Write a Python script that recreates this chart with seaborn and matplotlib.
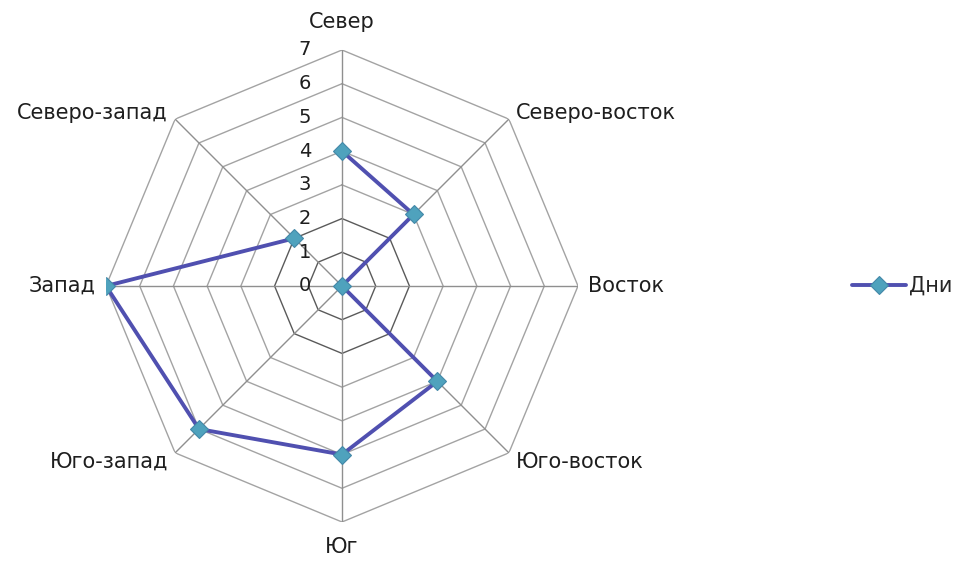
import numpy as np
import seaborn as sns
import matplotlib.pyplot as plt

# data
directions = ['Север', 'Северо-восток', 'Восток', 'Юго-восток',
              'Юг', 'Юго-запад', 'Запад', 'Северо-запад']
days = [4, 3, 0, 4, 5, 6, 7, 2]
levels = [0, 1, 2, 3, 4, 5, 6, 7]
series_name = 'Дни'

sns.set_style('white')
plt.rcParams['font.family'] = ['DejaVu Sans']

fig = plt.figure(figsize=(9.6, 5.68), dpi=100)
ax = fig.add_axes([0.1104, 0.081, 0.4917, 0.831], projection='polar')
ax.set_theta_zero_location('N')
ax.set_theta_direction(-1)
ax.set_ylim(0, max(levels))
ax.grid(False)
ax.spines['polar'].set_visible(False)
ax.set_xticks([])
ax.set_yticks([])
ax.patch.set_alpha(0)

n = len(directions)
theta = np.linspace(0, 2 * np.pi, n, endpoint=False)
theta_c = np.append(theta, theta[0])

# octagon rings
for lv in levels[1:]:
    col = '#5a5a5a' if lv <= 2 else '#a3a3a3'
    ax.plot(theta_c, [lv] * (n + 1), color=col, lw=1, zorder=1)
# spokes
for t in theta:
    ax.plot([t, t], [0, levels[-1]], color='#8f8f8f', lw=1, zorder=1)

# series
vals_c = days + [days[0]]
sns.lineplot(x=theta_c, y=vals_c, sort=False, ax=ax, color='#5050b0', lw=2.8,
             marker='D', markersize=9, markerfacecolor='#4fa2bd',
             markeredgecolor='#4388a8', markeredgewidth=0.8, zorder=3,
             label=series_name, legend=False)

# radial value labels
for lv in levels:
    ax.annotate(str(lv), xy=(0, lv), xytext=(-37, 0), textcoords='offset pixels',
                ha='center', va='center', fontsize=14, color='#1e1e1e')

# category labels
offsets = [(0, 28, 'center', 'center'), (7, 6, 'left', 'center'),
           (10, 0, 'left', 'center'), (7, -9, 'left', 'center'),
           (0, -25, 'center', 'center'), (-7, -9, 'right', 'center'),
           (-10, 0, 'right', 'center'), (-7, 6, 'right', 'center')]
for t, name, (dx, dy, ha, va) in zip(theta, directions, offsets):
    ax.annotate(name, xy=(t, levels[-1]), xytext=(dx, dy), textcoords='offset pixels',
                ha=ha, va=va, fontsize=15, color='#1e1e1e')

# legend
h, l = ax.get_legend_handles_labels()
fig.legend(h, l, loc='center left', bbox_to_anchor=(0.879, 0.4965), frameon=False,
           fontsize=15, handlelength=2.6, handletextpad=0.15, borderaxespad=0)

fig.savefig('out.png', dpi=100)
